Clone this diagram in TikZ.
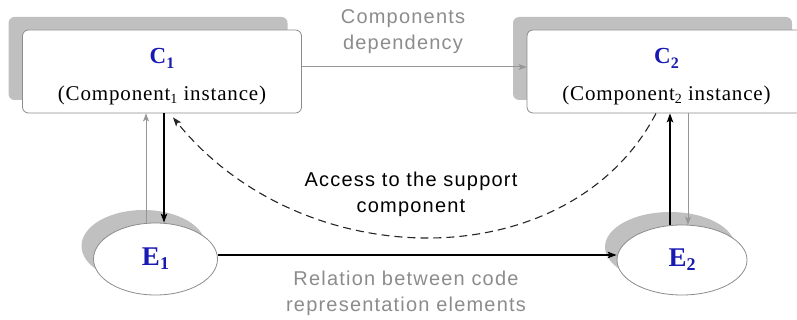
\documentclass[tikz,border=0pt]{standalone}
\usepackage{fontspec}
\setmainfont{Liberation Serif}
\newfontfamily\instserif[LetterSpace=4]{Liberation Serif}
\newfontfamily\labelsans[LetterSpace=6]{Liberation Sans}
\usetikzlibrary{arrows.meta,shadows,shapes.geometric}

\definecolor{shadowgray}{RGB}{192,192,192}
\definecolor{edgegray}{RGB}{140,140,140}
\definecolor{linkgray}{RGB}{150,150,150}
\definecolor{textgray}{RGB}{140,140,140}
\definecolor{idblue}{RGB}{25,25,180}

% identifier (bold, blue, lowered index) and the instance caption
\newcommand{\idlabel}[2]{\rule{0pt}{24.5pt}{\fontsize{23}{23}\selectfont\bfseries\color{idblue}#1\raisebox{-5pt}{\fontsize{16}{16}\selectfont #2}}}
\newcommand{\instlabel}[1]{(Component\raisebox{-3pt}{\fontsize{14}{14}\selectfont #1} instance)}

\begin{document}
\begin{tikzpicture}[x=1pt,y=-1pt,
  compbox/.style={draw=edgegray, line width=0.8pt, fill=white, rounded corners=6pt,
    minimum width=279pt, minimum height=83pt, inner sep=0pt, align=center,
    font=\instserif\fontsize{21}{22}\selectfont,
    general shadow={fill=shadowgray, draw=none, shadow xshift=-14pt, shadow yshift=13pt}},
  elem/.style={ellipse, draw=edgegray, line width=0.8pt, fill=white, inner sep=0pt,
    minimum width=124pt, minimum height=72pt,
    font=\fontsize{27}{27}\selectfont\bfseries,
    general shadow={fill=shadowgray, draw=none, shadow xshift=-12pt, shadow yshift=13pt}},
  note/.style={align=center, inner sep=0pt, font=\labelsans\fontsize{20}{26}\selectfont},
  blacklink/.style={draw=black, line width=1.2pt, -{Stealth[length=9pt,width=6.5pt,inset=2pt]}},
  graylink/.style={draw=linkgray, line width=1pt, -{Stealth[length=8pt,width=6pt,inset=2pt]}},
  dashlink/.style={draw=black!85, line width=1.1pt, dash pattern=on 8pt off 5pt,
    -{Stealth[length=9pt,width=6.5pt,inset=2pt]}}
]
\useasboundingbox (0,0) rectangle (797,320);

% component instances
\node[compbox] (C1) at (162,71.5) {\idlabel{C}{1}\\[15pt]\instlabel{1}};
\node[compbox] (C2) at (666.5,71.5) {\idlabel{C}{2}\\[15pt]\instlabel{2}};

% code representation elements
\node[elem] (E1) at (155.5,259) {\color{idblue}E\raisebox{-4pt}{\fontsize{18}{18}\selectfont 1}};
\node[elem, minimum width=130pt, minimum height=70pt] (E2) at (682,260)
  {\color{idblue}E\raisebox{-4pt}{\fontsize{18}{18}\selectfont 2}};

% labels
\node[note, text=textgray] (depl) at (403,32) {Components\\dependency};
\node[note, text=black] (accl) at (411,194) {Access to the support\\component};
\node[note, text=textgray] (rell) at (406,293) {Relation between code\\representation elements};

% component dependency
\draw[graylink] ([yshift=4.5pt]C1.east) -- ([yshift=4.5pt]C1.east -| C2.west);

% element relation
\draw[blacklink] ([yshift=4pt]E1.east) -- ([yshift=4pt]E1.east -| E2.west);

% instance <-> element links, left
\draw[graylink] ([xshift=-9.5pt]E1.north) -- ([xshift=-9.5pt]E1.north |- C1.south);
\draw[blacklink] ([xshift=8.5pt]E1.north |- C1.south) -- ([xshift=8.5pt]E1.north);

% instance <-> element links, right
\draw[blacklink] ([xshift=-12pt]E2.north) -- ([xshift=-12pt]E2.north |- C2.south);
\draw[graylink] ([xshift=6pt]E2.north |- C2.south) -- ([xshift=6pt]E2.north);

% access to the support component
\draw[dashlink] ([xshift=-10.5pt]C2.south) .. controls (570,278) and (303,278) .. ([xshift=11pt,yshift=-4pt]C1.south);
\end{tikzpicture}
\end{document}
